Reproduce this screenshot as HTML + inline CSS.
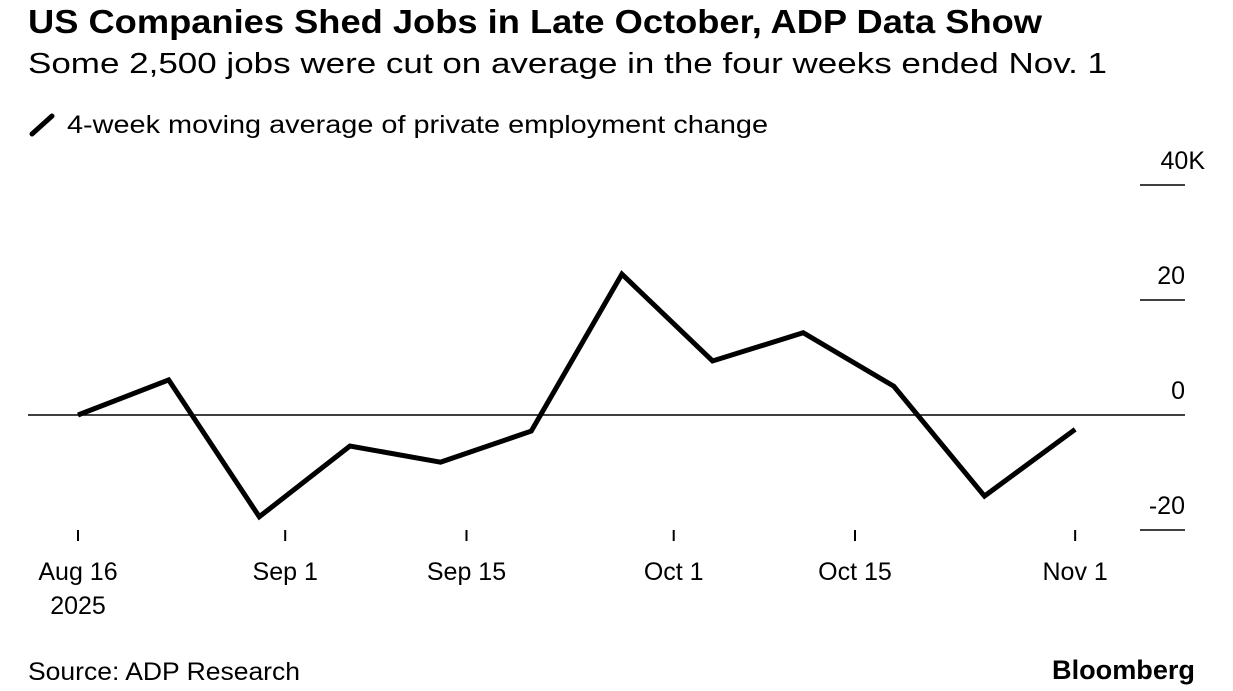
<!DOCTYPE html>
<html><head><meta charset="utf-8"><style>
body{margin:0;width:1233px;height:691px;background:#fff;font-family:"Liberation Sans",sans-serif;color:#000;overflow:hidden;position:relative}
.t{position:absolute;white-space:nowrap;transform-origin:0 0}
</style></head><body>
<div class="t fit" data-w="1014" style="left:28px;top:3px;font-size:33px;font-weight:bold">US Companies Shed Jobs in Late October, ADP Data Show</div>
<div class="t fit" data-w="1079" style="left:28px;top:48px;font-size:29px">Some 2,500 jobs were cut on average in the four weeks ended Nov. 1</div>
<svg width="30" height="24" style="position:absolute;left:28px;top:113px"><line x1="4" y1="21" x2="24" y2="3" stroke="#000" stroke-width="5" stroke-linecap="round"/></svg>
<div class="t fit" data-w="701" style="left:67px;top:111px;font-size:25px">4-week moving average of private employment change</div>
<div class="t fit" data-w="272" style="left:28px;top:658px;font-size:25px">Source: ADP Research</div>
<div class="t fit" data-w="143" style="left:1052px;top:655px;font-size:27px;font-weight:bold">Bloomberg</div>
<svg id="c" width="1233" height="691" style="position:absolute;left:0;top:0"></svg>
<script>
const values=[0,6.1,-17.7,-5.4,-8.2,-2.8,24.5,9.4,14.3,5,-14.1,-2.5];
const yTicks=[40,20,0,-20];
const yTickLabels=["40K","20","0","-20"];
const xTickDays=[0,16,30,46,60,77];
const xTickLabels=["Aug 16","Sep 1","Sep 15","Oct 1","Oct 15","Nov 1"];
document.querySelectorAll('.fit').forEach(e=>{const w=e.getBoundingClientRect().width;e.style.transform='scaleX('+(+e.dataset.w/w)+')';});
const NS="http://www.w3.org/2000/svg";
const svg=document.getElementById('c');
const x=d=>78+d*12.95;
const y=v=>415-v*5.75;
function mk(t,a){const e=document.createElementNS(NS,t);for(const k in a)e.setAttribute(k,a[k]);svg.appendChild(e);return e;}
yTicks.forEach((v,i)=>{
 const l=mk('line',{x1:v===0?28:1140,x2:1185,y1:y(v),y2:y(v),stroke:'#000','stroke-width':1.5});
 
 
 const t=mk('text',{x:v===40?1205:1185,y:y(v)-16,'text-anchor':'end','font-size':25});
 t.textContent=yTickLabels[i];
 
 
});
xTickDays.forEach((d,i)=>{
 const l=mk('line',{x1:x(d),x2:x(d),y1:530,y2:541,stroke:'#000','stroke-width':2});
 
 
 const t=mk('text',{x:x(d),y:580,'text-anchor':'middle','font-size':25,textLength:0});
 t.removeAttribute('textLength');
 t.textContent=xTickLabels[i];
 
 
});
const yr=mk('text',{x:x(0),y:614,'text-anchor':'middle','font-size':25});
yr.textContent='2025';


const pts=values.map((v,i)=>x(i*7)+','+y(v)).join(' ');
const p=mk('polyline',{points:pts,fill:'none',stroke:'#000','stroke-width':5,'stroke-linejoin':'miter','stroke-linecap':'butt'});


</script>
</body></html>
